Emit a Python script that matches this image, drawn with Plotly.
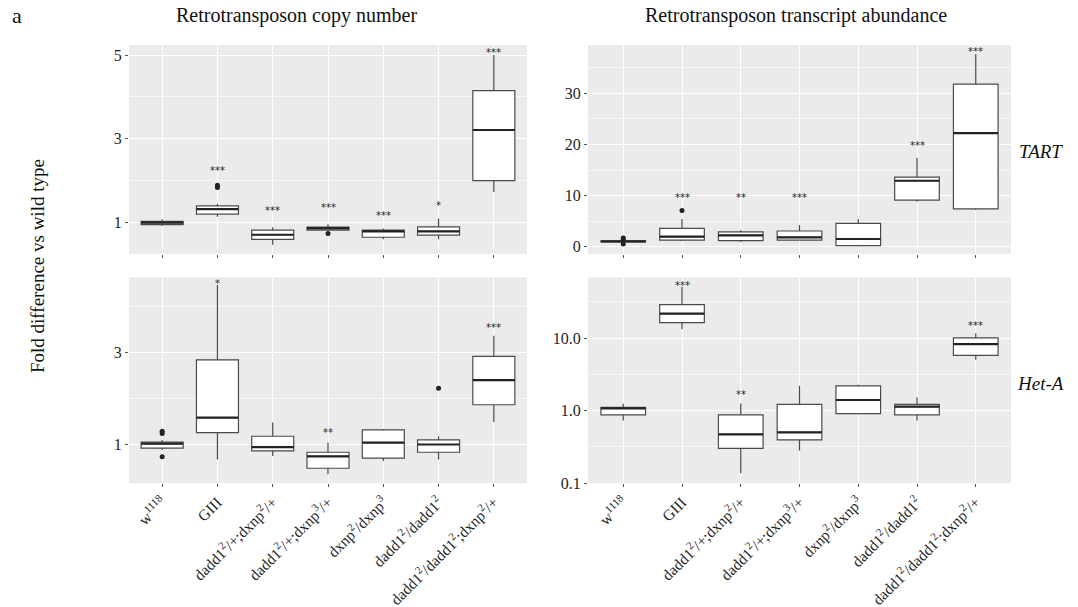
import math
import plotly.graph_objects as go

W, H = 1078, 607

genotypes = [
    "w<sup>1118</sup>",
    "GIII",
    "dadd1<sup>2</sup>/+;dxnp<sup>2</sup>/+",
    "dadd1<sup>2</sup>/+;dxnp<sup>3</sup>/+",
    "dxnp<sup>2</sup>/dxnp<sup>3</sup>",
    "dadd1<sup>2</sup>/dadd1<sup>2</sup>",
    "dadd1<sup>2</sup>/dadd1<sup>2</sup>;dxnp<sup>2</sup>/+",
]

# TART copy number (fold vs wild type)
tart_copy_low = [0.92, 1.14, 0.47, 0.81, 0.60, 0.60, 1.73]
tart_copy_q1 = [0.95, 1.20, 0.60, 0.82, 0.65, 0.70, 2.00]
tart_copy_med = [1.00, 1.32, 0.71, 0.86, 0.79, 0.79, 3.21]
tart_copy_q3 = [1.03, 1.40, 0.82, 0.89, 0.82, 0.90, 4.15]
tart_copy_high = [1.08, 1.45, 0.89, 0.96, 0.86, 1.10, 5.00]
tart_copy_out_x = [1, 1, 3]
tart_copy_out_y = [1.84, 1.89, 0.74]
tart_copy_sig = ["", "***", "***", "***", "***", "*", "***"]
tart_copy_sig_y = [None, 2.30, 1.34, 1.40, 1.22, 1.45, 5.12]

# TART transcript abundance
tart_expr_low = [0.85, 1.1, 0.9, 1.2, 0.2, 8.8, 7.2]
tart_expr_q1 = [0.95, 1.3, 1.2, 1.3, 0.2, 9.1, 7.4]
tart_expr_med = [1.05, 1.96, 2.2, 1.83, 1.5, 12.9, 22.2]
tart_expr_q3 = [1.15, 3.6, 2.9, 3.07, 4.57, 13.6, 31.8]
tart_expr_high = [1.25, 5.4, 3.2, 4.25, 5.4, 17.4, 37.7]
tart_expr_out_x = [0, 0, 0, 1]
tart_expr_out_y = [0.55, 1.45, 1.7, 7.1]
tart_expr_sig = ["", "***", "**", "***", "", "***", "***"]
tart_expr_sig_y = [None, 10.0, 10.0, 10.0, None, 20.2, 38.6]

# Het-A copy number
heta_copy_low = [0.87, 0.66, 0.74, 0.34, 0.63, 0.66, 1.48]
heta_copy_q1 = [0.91, 1.25, 0.85, 0.47, 0.69, 0.82, 1.86]
heta_copy_med = [1.01, 1.58, 0.93, 0.73, 1.03, 0.99, 2.40]
heta_copy_q3 = [1.04, 2.84, 1.17, 0.82, 1.31, 1.09, 2.92]
heta_copy_high = [1.09, 4.48, 1.47, 1.03, 1.33, 1.17, 3.37]
heta_copy_out_x = [0, 0, 0, 5]
heta_copy_out_y = [1.23, 1.28, 0.72, 2.22]
heta_copy_sig = ["", "*", "", "**", "", "", "***"]
heta_copy_sig_y = [None, 4.55, None, 1.29, None, None, 3.59]

# Het-A transcript abundance (log scale)
heta_expr_low = [0.73, 13.3, 0.136, 0.28, 0.90, 0.73, 5.03]
heta_expr_q1 = [0.87, 16.4, 0.30, 0.395, 0.91, 0.87, 5.77]
heta_expr_med = [1.075, 21.8, 0.468, 0.50, 1.40, 1.135, 8.27]
heta_expr_q3 = [1.11, 29.0, 0.87, 1.22, 2.19, 1.22, 10.1]
heta_expr_high = [1.24, 51.3, 1.25, 2.21, 2.28, 1.52, 11.7]
heta_expr_out_x = []
heta_expr_out_y = []
heta_expr_sig = ["", "***", "**", "", "", "", "***"]
heta_expr_sig_y = [None, 57.0, 1.75, None, None, None, 16.0]

panels = [
    dict(ax="", low=tart_copy_low, q1=tart_copy_q1, med=tart_copy_med, q3=tart_copy_q3,
         high=tart_copy_high, ox=tart_copy_out_x, oy=tart_copy_out_y,
         sig=tart_copy_sig, sig_y=tart_copy_sig_y, log=False),
    dict(ax="2", low=tart_expr_low, q1=tart_expr_q1, med=tart_expr_med, q3=tart_expr_q3,
         high=tart_expr_high, ox=tart_expr_out_x, oy=tart_expr_out_y,
         sig=tart_expr_sig, sig_y=tart_expr_sig_y, log=False),
    dict(ax="3", low=heta_copy_low, q1=heta_copy_q1, med=heta_copy_med, q3=heta_copy_q3,
         high=heta_copy_high, ox=heta_copy_out_x, oy=heta_copy_out_y,
         sig=heta_copy_sig, sig_y=heta_copy_sig_y, log=False),
    dict(ax="4", low=heta_expr_low, q1=heta_expr_q1, med=heta_expr_med, q3=heta_expr_q3,
         high=heta_expr_high, ox=heta_expr_out_x, oy=heta_expr_out_y,
         sig=heta_expr_sig, sig_y=heta_expr_sig_y, log=True),
]

BOX_W = 0.76
LINE = "#4a4a4a"
SERIF = "Liberation Serif, Times New Roman, serif"

fig = go.Figure()
annotations = []
xs = list(range(len(genotypes)))

for p in panels:
    xa, ya = "x" + p["ax"], "y" + p["ax"]
    fig.add_trace(go.Box(
        x=xs, q1=p["q1"], median=p["med"], q3=p["q3"],
        lowerfence=p["low"], upperfence=p["high"],
        width=BOX_W, whiskerwidth=0, boxpoints=False,
        fillcolor="white", line=dict(color=LINE, width=1.2),
        xaxis=xa, yaxis=ya, showlegend=False, hoverinfo="skip",
    ))
    # heavier median bars, as in ggplot's boxplot
    mx, my = [], []
    for i, m in enumerate(p["med"]):
        mx += [i - BOX_W / 2, i + BOX_W / 2, None]
        my += [m, m, None]
    fig.add_trace(go.Scatter(
        x=mx, y=my, mode="lines", line=dict(color="#222222", width=2.2),
        xaxis=xa, yaxis=ya, showlegend=False, hoverinfo="skip",
    ))
    if p["ox"]:
        fig.add_trace(go.Scatter(
            x=p["ox"], y=p["oy"], mode="markers",
            marker=dict(color="#222222", size=5),
            xaxis=xa, yaxis=ya, showlegend=False, hoverinfo="skip",
        ))
    for i, (s, sy) in enumerate(zip(p["sig"], p["sig_y"])):
        if not s:
            continue
        yv = math.log10(sy) if p["log"] else sy
        annotations.append(dict(
            x=i, y=yv, xref=xa, yref=ya, text=s, showarrow=False,
            font=dict(family="DejaVu Sans, sans-serif", size=10, color="#262626"),
            xanchor="center", yanchor="middle", yshift=-2,
        ))


def px_x(v):
    return v / W


def px_y(v):
    return 1 - v / H


left_dom = [px_x(129), px_x(527)]
right_dom = [px_x(588), px_x(1011)]
top_dom = [px_y(254), px_y(45)]
bot_dom = [px_y(483.3), px_y(277.3)]

x_tick_font = dict(family=SERIF, size=15.5, color="#1e1e1e")
y_tick_font = dict(family=SERIF, size=16, color="#1e1e1e")
common_x = dict(
    range=[-0.6, 6.6], tickvals=xs, ticktext=genotypes, showgrid=True,
    gridcolor="white", gridwidth=1.2, zeroline=False, ticks="outside",
    ticklen=3, tickcolor="#555555", tickfont=x_tick_font, showline=False,
    automargin=False,
)
common_y = dict(
    showgrid=True, gridcolor="white", gridwidth=1.2, zeroline=False,
    ticks="outside", ticklen=3, tickcolor="#555555", tickfont=y_tick_font,
    showline=False, automargin=False,
)
minor_style = dict(gridcolor="#f7f7f7", gridwidth=0.6, showgrid=True)

fig.update_layout(
    width=W, height=H, margin=dict(l=0, r=0, t=0, b=0),
    paper_bgcolor="white", plot_bgcolor="#EBEBEB", showlegend=False,
    xaxis=dict(common_x, domain=left_dom, anchor="y", showticklabels=False),
    xaxis2=dict(common_x, domain=right_dom, anchor="y2", showticklabels=False),
    xaxis3=dict(common_x, domain=left_dom, anchor="y3", tickangle=-45),
    xaxis4=dict(common_x, domain=right_dom, anchor="y4", tickangle=-45),
    yaxis=dict(common_y, domain=top_dom, anchor="x", range=[0.25, 5.24],
               tickvals=[1, 3, 5], ticktext=["1", "3", "5"],
               minor=dict(minor_style, tickvals=[2, 4])),
    yaxis2=dict(common_y, domain=top_dom, anchor="x2", range=[-1.43, 39.45],
                tickvals=[0, 10, 20, 30],
                minor=dict(minor_style, tickvals=[5, 15, 25, 35])),
    yaxis3=dict(common_y, domain=bot_dom, anchor="x3", range=[0.14, 4.65],
                tickvals=[1, 3], ticktext=["1", "3"],
                minor=dict(minor_style, tickvals=[2, 4])),
    yaxis4=dict(common_y, domain=bot_dom, anchor="x4", type="log",
                range=[-1.004, 1.84], tickvals=[0.1, 1, 10],
                ticktext=["0.1", "1.0", "10.0"],
                minor=dict(minor_style, tickvals=[10 ** -0.5, 10 ** 0.5, 10 ** 1.5])),
)

text_black = "#111111"
annotations += [
    dict(x=px_x(10), y=px_y(16), xref="paper", yref="paper", text="a",
         showarrow=False, xanchor="left", yanchor="middle",
         font=dict(family=SERIF, size=22, color=text_black)),
    dict(x=px_x(296), y=px_y(15), xref="paper", yref="paper",
         text="Retrotransposon copy number", showarrow=False,
         xanchor="center", yanchor="middle",
         font=dict(family=SERIF, size=20, color=text_black)),
    dict(x=px_x(796), y=px_y(15), xref="paper", yref="paper",
         text="Retrotransposon transcript abundance", showarrow=False,
         xanchor="center", yanchor="middle",
         font=dict(family=SERIF, size=20, color=text_black)),
    dict(x=px_x(37), y=px_y(266), xref="paper", yref="paper",
         text="Fold difference vs wild type", showarrow=False, textangle=-90,
         xanchor="center", yanchor="middle",
         font=dict(family=SERIF, size=19, color=text_black)),
    dict(x=px_x(1017), y=px_y(152), xref="paper", yref="paper",
         text="<i>TART</i>", showarrow=False, xanchor="left", yanchor="middle",
         font=dict(family=SERIF, size=19, color=text_black)),
    dict(x=px_x(1015), y=px_y(384), xref="paper", yref="paper",
         text="<i>Het-A</i>", showarrow=False, xanchor="left", yanchor="middle",
         font=dict(family=SERIF, size=19, color=text_black)),
]
fig.update_layout(annotations=annotations)

fig.write_html("out.html")
